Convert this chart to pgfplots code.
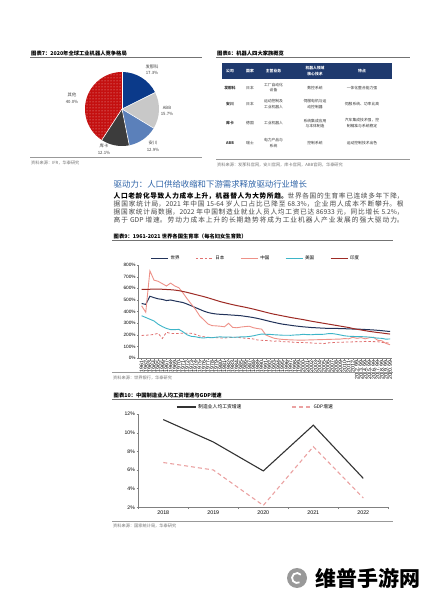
\documentclass[border=0pt]{standalone}
\usepackage{fontspec}
\setmainfont{Noto Sans CJK SC}
\newfontfamily\arial{Liberation Sans}
\usepackage{pgfplots}
\pgfplotsset{compat=1.18}
\usetikzlibrary{patterns}
\XeTeXlinebreaklocale "zh"
\XeTeXlinebreakskip=0pt plus 1.5pt
\definecolor{pienavy}{HTML}{0B3A8A}
\definecolor{piegray}{HTML}{C8C8C8}
\definecolor{piesteel}{HTML}{5B80BA}
\definecolor{piedark}{HTML}{3C3C3C}
\definecolor{piered}{HTML}{C41010}
\definecolor{tblhead}{HTML}{1F3A6E}
\definecolor{headblue}{HTML}{2F64A8}
\definecolor{cworld}{HTML}{22335A}
\definecolor{cjapan}{HTML}{E07070}
\definecolor{cchina}{HTML}{EE9188}
\definecolor{cus}{HTML}{3DB5C8}
\definecolor{cindia}{HTML}{9E2B25}
\definecolor{cwage}{HTML}{333333}
\definecolor{cgdp}{HTML}{EBA2A2}
\newcommand{\fs}[2][]{\fontsize{#2}{#2}\selectfont}
\begin{document}
\begin{tikzpicture}[x=1pt,y=1pt]
\fill[white] (0,0) rectangle (424,600);

% ---------- Chart 7 : pie ----------
\node[anchor=west, inner sep=0pt, font=\fs{5.3}\bfseries] at (31,547) {图表7：2020年全球工业机器人竞争格局};
\draw[black!55, line width=0.5pt] (30,543) -- (202,543);
\pgfmathsetmacro\tot{17.3+15.7+12.9+12.1+40.0}
\pgfmathsetmacro\aA{90-17.3/\tot*360}
\pgfmathsetmacro\aB{\aA-15.7/\tot*360}
\pgfmathsetmacro\aC{\aB-12.9/\tot*360}
\pgfmathsetmacro\aD{\aC-12.1/\tot*360}
\pgfmathsetmacro\aE{\aD-40.0/\tot*360}
\begin{axis}[at={(85pt,454pt)}, anchor=south west, width=74pt, height=74pt, scale only axis,
  hide axis, xmin=-1, xmax=1, ymin=-1, ymax=1]
\fill[pienavy] (axis cs:0,0) -- ++(90:37pt) arc[start angle=90, end angle=\aA, radius=37pt] -- cycle;
\fill[piegray] (axis cs:0,0) -- ++(\aA:37pt) arc[start angle=\aA, end angle=\aB, radius=37pt] -- cycle;
\fill[piesteel] (axis cs:0,0) -- ++(\aB:37pt) arc[start angle=\aB, end angle=\aC, radius=37pt] -- cycle;
\fill[piedark] (axis cs:0,0) -- ++(\aC:37pt) arc[start angle=\aC, end angle=\aD, radius=37pt] -- cycle;
\fill[piered] (axis cs:0,0) -- ++(\aD:37pt) arc[start angle=\aD, end angle=\aE, radius=37pt] -- cycle;
\fill[pattern=dots, pattern color=white!70!piered] (axis cs:0,0) -- ++(\aD:37pt) arc[start angle=\aD, end angle=\aE, radius=37pt] -- cycle;
\draw[white, line width=0.6pt] (axis cs:0,0) -- ++(90:37pt);
\draw[white, line width=0.6pt] (axis cs:0,0) -- ++(\aA:37pt);
\draw[white, line width=0.6pt] (axis cs:0,0) -- ++(\aB:37pt);
\draw[white, line width=0.6pt] (axis cs:0,0) -- ++(\aC:37pt);
\draw[white, line width=0.6pt] (axis cs:0,0) -- ++(\aD:37pt);
\end{axis}
\begin{scope}[every node/.style={align=center, font=\fontsize{4.3}{6.5}\selectfont, text=black!75}]
\node at (152,530.3) {发那科\\17.3\%};
\node at (167,489) {ABB\\15.7\%};
\node at (153,454) {安川\\12.9\%};
\node at (104,451) {库卡\\12.1\%};
\node at (72,501.7) {其他\\40.0\%};
\end{scope}
\draw[black!40, line width=0.4pt] (30,443) -- (202,443);
\node[anchor=west, inner sep=0pt, font=\fs{4.2}, text=black!55] at (31,437) {资料来源：IFR，华泰研究};

% ---------- Chart 8 : table ----------
\node[anchor=west, inner sep=0pt, font=\fs{5.3}\bfseries] at (217,547) {图表8：机器人四大家族概览};
\draw[black!55, line width=0.5pt] (216,543) -- (410,543);
\fill[tblhead] (221.5,537) rectangle (392,520.5);
\begin{scope}[every node/.style={align=center, font=\fontsize{3.8}{5.5}\selectfont\bfseries, text=white}]
\node at (230,528.7) {公司};
\node at (250,528.7) {国家};
\node at (273.5,528.7) {主营业务};
\node at (315,528.7) {机器人领域\\核心技术};
\node at (362,528.7) {特点};
\end{scope}
\begin{scope}[every node/.style={align=center, font=\fontsize{3.8}{5.5}\selectfont, text=black!80}]
\node[font=\fontsize{3.8}{5.5}\selectfont\bfseries] at (230,512.3) {发那科};
\node at (250,512.3) {日本};
\node at (273.5,512.3) {工厂自动化\\设备};
\node at (315,512.3) {数控系统};
\node at (362,512.3) {一体化整合能力强};
\node[font=\fontsize{3.8}{5.5}\selectfont\bfseries] at (230,495.7) {安川};
\node at (250,495.7) {日本};
\node at (273.5,495.7) {运动控制及\\工业机器人};
\node at (315,495.7) {伺服电机与运\\动控制器};
\node at (362,495.7) {伺服系统、功率比高};
\node[font=\fontsize{3.8}{5.5}\selectfont\bfseries] at (230,476.7) {库卡};
\node at (250,476.7) {德国};
\node at (273.5,476.7) {工业机器人};
\node at (315,476.7) {系统集成应用\\与本体制造};
\node at (362,476.7) {汽车集成技术强，控\\制精准与系统稳定};
\node[font=\fontsize{3.8}{5.5}\selectfont\bfseries] at (230,456.7) {ABB};
\node at (250,456.7) {瑞士};
\node at (273.5,456.7) {电力产品与\\系统};
\node at (315,456.7) {控制系统};
\node at (362,456.7) {运动控制技术出色};
\end{scope}
\draw[black!40, line width=0.4pt] (216,441) -- (410,441);
\node[anchor=west, inner sep=0pt, font=\fs{4.2}, text=black!55] at (217,435) {资料来源：发那科官网，安川官网，库卡官网，ABB官网，华泰研究};

% ---------- Text block ----------
\node[anchor=west, inner sep=0pt, font=\fs{8.4}, text=headblue] at (113.5,416) {驱动力：人口供给收缩和下游需求释放驱动行业增长};
\node[anchor=base west, inner sep=0pt] at (113.5,401.3) {\parbox[t]{290pt}{\fontsize{6.7}{8}\selectfont\parfillskip=0pt\leavevmode\color{black!72}%
{\bfseries\color{black}人口老龄化导致人力成本上升，机器替人为大势所趋。}世界各国的生育率已连续多年下降，\linebreak
据国家统计局，2021 年中国 15-64 岁人口占比已降至 68.3\%，企业用人成本不断攀升。根\linebreak
据国家统计局数据，2022 年中国制造业就业人员人均工资已达 86933 元，同比增长 5.2\%，\linebreak
高于 GDP 增速。劳动力成本上升的长期趋势将成为工业机器人产业发展的强大驱动力。}};

% ---------- Chart 9 ----------
\node[anchor=west, inner sep=0pt, font=\fs{5.3}\bfseries] at (113.5,364) {图表9：1961-2021 世界各国生育率（每名妇女生育数）};
\draw[black!55, line width=0.5pt] (112,360) -- (393,360);
\begin{axis}[at={(138.3pt,241.7pt)}, anchor=south west, width=253.4pt, height=93.3pt, scale only axis,
  xmin=1960.2, xmax=2021.4, ymin=0, ymax=800,
  axis x line=bottom, axis y line=left, axis line style={-, black!50, line width=0.4pt},
  xtick={1961,...,2021}, ytick={0,100,...,800},
  yticklabel={\pgfmathprintnumber{\tick}\%},
  /pgf/number format/1000 sep={}, /pgf/number format/assume math mode=true,
  x tick label style={rotate=90, anchor=east, font=\arial\fs{5.2}, inner sep=1pt},
  y tick label style={font=\arial\fs{4.7}, inner sep=1pt},
  tick style={black!50, line width=0.3pt}, tick align=outside, major tick length=1.5pt,
  legend columns=5,
  legend style={at={(0.464,1.075)}, anchor=center, draw=none, fill=none, font=\fs{4.5},
    /tikz/every even column/.append style={column sep=14pt}},
  legend image code/.code={\draw[#1] (0pt,0pt) -- (17pt,0pt);}]
\addplot[cworld, line width=1pt] coordinates {(1961,470)(1962,462)(1963,532)(1964,520)(1965,510)(1966,505)(1967,495)(1968,500)(1969,492)(1970,485)(1971,478)(1972,465)(1973,450)(1974,435)(1975,420)(1976,405)(1977,393)(1978,385)(1979,380)(1980,377)(1981,375)(1982,373)(1983,370)(1984,368)(1985,365)(1986,360)(1987,355)(1988,349)(1989,342)(1990,334)(1991,325)(1992,316)(1993,308)(1994,300)(1995,293)(1996,288)(1997,283)(1998,278)(1999,274)(2000,270)(2001,267)(2002,264)(2003,262)(2004,260)(2005,258)(2006,257)(2007,257)(2008,256)(2009,255)(2010,254)(2011,252)(2012,251)(2013,250)(2014,249)(2015,247)(2016,245)(2017,243)(2018,240)(2019,237)(2020,233)(2021,230)};
\addlegendentry{世界}
\addplot[cjapan, line width=0.8pt, dash pattern=on 2.5pt off 2pt] coordinates {(1961,196)(1962,198)(1963,200)(1964,205)(1965,214)(1966,170)(1967,223)(1968,213)(1969,213)(1970,213)(1971,216)(1972,214)(1973,214)(1974,205)(1975,191)(1976,185)(1977,180)(1978,179)(1979,177)(1980,175)(1981,174)(1982,177)(1983,180)(1984,181)(1985,176)(1986,172)(1987,169)(1988,166)(1989,157)(1990,154)(1991,153)(1992,150)(1993,146)(1994,150)(1995,142)(1996,143)(1997,139)(1998,138)(1999,134)(2000,136)(2001,133)(2002,132)(2003,129)(2004,129)(2005,126)(2006,132)(2007,134)(2008,137)(2009,137)(2010,139)(2011,139)(2012,141)(2013,143)(2014,142)(2015,145)(2016,144)(2017,143)(2018,142)(2019,136)(2020,133)(2021,130)};
\addlegendentry{日本}
\addplot[cchina, line width=0.9pt] coordinates {(1961,450)(1962,395)(1963,750)(1964,670)(1965,660)(1966,640)(1967,620)(1968,645)(1969,620)(1970,605)(1971,560)(1972,510)(1973,465)(1974,420)(1975,365)(1976,330)(1977,295)(1978,280)(1979,278)(1980,275)(1981,270)(1982,300)(1983,265)(1984,262)(1985,268)(1986,272)(1987,275)(1988,262)(1989,255)(1990,250)(1991,200)(1992,185)(1993,172)(1994,166)(1995,162)(1996,160)(1997,158)(1998,157)(1999,156)(2000,156)(2001,157)(2002,158)(2003,159)(2004,160)(2005,161)(2006,162)(2007,163)(2008,164)(2009,165)(2010,169)(2011,167)(2012,180)(2013,171)(2014,177)(2015,167)(2016,177)(2017,181)(2018,155)(2019,150)(2020,128)(2021,116)};
\addlegendentry{中国}
\addplot[cus, line width=0.9pt] coordinates {(1961,365)(1962,350)(1963,335)(1964,320)(1965,292)(1966,272)(1967,256)(1968,246)(1969,246)(1970,248)(1971,227)(1972,201)(1973,188)(1974,185)(1975,177)(1976,174)(1977,179)(1978,176)(1979,181)(1980,184)(1981,181)(1982,183)(1983,180)(1984,181)(1985,184)(1986,184)(1987,187)(1988,193)(1989,201)(1990,208)(1991,206)(1992,205)(1993,202)(1994,200)(1995,198)(1996,198)(1997,197)(1998,200)(1999,201)(2000,206)(2001,203)(2002,202)(2003,205)(2004,205)(2005,206)(2006,211)(2007,212)(2008,207)(2009,200)(2010,193)(2011,189)(2012,188)(2013,186)(2014,186)(2015,184)(2016,182)(2017,177)(2018,173)(2019,171)(2020,164)(2021,166)};
\addlegendentry{美国}
\addplot[cindia, line width=1pt] coordinates {(1961,590)(1962,591)(1963,592)(1964,593)(1965,593)(1966,592)(1967,590)(1968,588)(1969,585)(1970,580)(1971,573)(1972,565)(1973,556)(1974,547)(1975,538)(1976,529)(1977,519)(1978,508)(1979,497)(1980,486)(1981,477)(1982,468)(1983,460)(1984,452)(1985,445)(1986,438)(1987,430)(1988,422)(1989,413)(1990,404)(1991,395)(1992,386)(1993,378)(1994,371)(1995,364)(1996,357)(1997,350)(1998,344)(1999,338)(2000,332)(2001,325)(2002,318)(2003,312)(2004,306)(2005,300)(2006,294)(2007,288)(2008,282)(2009,276)(2010,270)(2011,264)(2012,256)(2013,249)(2014,243)(2015,237)(2016,231)(2017,226)(2018,221)(2019,217)(2020,212)(2021,208)};
\addlegendentry{印度}
\end{axis}
\draw[black!40, line width=0.4pt] (112,227.3) -- (393,227.3);
\node[anchor=west, inner sep=0pt, font=\fs{4.2}, text=black!55] at (113,222.5) {资料来源：世界银行，华泰研究};

% ---------- Chart 10 ----------
\node[anchor=west, inner sep=0pt, font=\fs{5.3}\bfseries] at (113.5,205) {图表10：中国制造业人均工资增速与GDP增速};
\draw[black!55, line width=0.5pt] (112,201) -- (393,201);
\begin{axis}[at={(138.3pt,92.7pt)}, anchor=south west, width=250pt, height=93.3pt, scale only axis,
  xmin=-0.5, xmax=4.5, ymin=2, ymax=12,
  axis x line=bottom, axis y line=left, axis line style={-, black!50, line width=0.4pt},
  xtick={-0.5,0.5,1.5,2.5,3.5,4.5}, xticklabels={},
  extra x ticks={0,1,2,3,4}, extra x tick labels={2018,2019,2020,2021,2022},
  extra x tick style={major tick length=0pt},
  ytick={2,4,...,12}, yticklabel={\pgfmathprintnumber{\tick}\%},
  /pgf/number format/assume math mode=true,
  x tick label style={font=\arial\fs{5.3}},
  y tick label style={font=\arial\fs{5.1}, inner sep=1.5pt},
  tick style={black!50, line width=0.3pt}, tick align=outside, major tick length=1.8pt,
  legend columns=2,
  legend style={at={(0.469,1.075)}, anchor=center, draw=none, fill=none, font=\fs{4.8},
    /tikz/every even column/.append style={column sep=48pt}},
  legend image code/.code={\draw[#1] (0pt,0pt) -- (19pt,0pt);}]
\addplot[cwage, line width=1.1pt] coordinates {(0,11.4)(1,9.0)(2,5.9)(3,10.8)(4,5.1)};
\addlegendentry{制造业人均工资增速}
\addplot[cgdp, line width=1.1pt, dash pattern=on 4pt off 3pt] coordinates {(0,6.8)(1,6.0)(2,2.2)(3,8.5)(4,3.0)};
\addlegendentry{GDP增速}
\end{axis}
\draw[black!40, line width=0.4pt] (112,79) -- (393,79);
\node[anchor=west, inner sep=0pt, font=\fs{4.2}, text=black!55] at (113,74) {资料来源：国家统计局，华泰研究};

% ---------- watermark ----------
\fill[black!40] (297,22) circle (10);
\draw[white, line width=1.8pt] (297,22) ++(40:5) arc[start angle=40, end angle=300, radius=5];
\fill[black!40] (297,22) circle (2);
\node[anchor=east, inner sep=0pt, font=\fs{21}\bfseries] at (421,22) {维普手游网};
\end{tikzpicture}
\end{document}
